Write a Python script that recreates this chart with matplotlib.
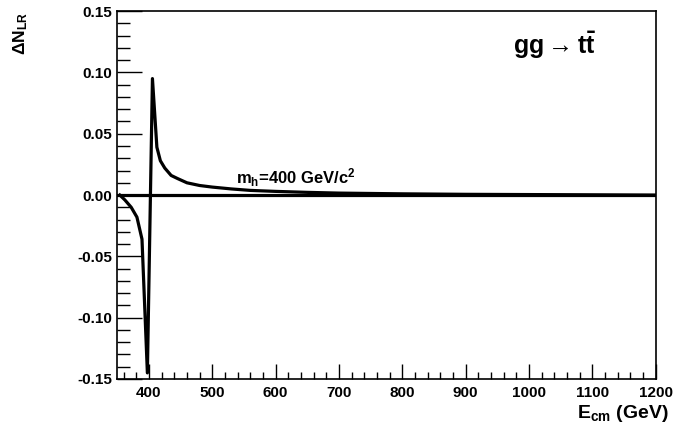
import matplotlib
matplotlib.use('Agg')
import matplotlib.pyplot as plt
from matplotlib.ticker import MultipleLocator, FormatStrFormatter

plt.rcParams['font.family'] = ['Liberation Sans', 'DejaVu Sans']
plt.rcParams['font.weight'] = 'bold'
plt.rcParams['mathtext.fontset'] = 'custom'
plt.rcParams['mathtext.rm'] = 'Liberation Sans'
plt.rcParams['mathtext.bf'] = 'Liberation Sans:bold'
plt.rcParams['mathtext.it'] = 'Liberation Sans:italic'

# curve
energy = [354, 362, 372, 381, 389, 397.5, 405.5, 412.5, 418, 425, 435, 445,
          460, 480, 500, 530, 560, 600, 650, 700, 800, 900, 1000, 1100, 1200]
delta_n = [0.0, -0.004, -0.010, -0.018, -0.036, -0.145, 0.095, 0.039, 0.028,
           0.022, 0.016, 0.0135, 0.010, 0.0078, 0.0065, 0.005, 0.0038, 0.003,
           0.0022, 0.0016, 0.001, 0.0006, 0.0004, 0.0002, 0.0]

x_range = (350, 1200)
y_range = (-0.15, 0.15)

fig = plt.figure(figsize=(6.76, 4.28), dpi=100)
ax = fig.add_axes([0.1735, 0.1145, 0.7965, 0.8595])

ax.plot(energy, delta_n, color='black', lw=2.3)
ax.plot(x_range, [0, 0], color='black', lw=2.3)

ax.set_xlim(*x_range)
ax.set_ylim(*y_range)

ax.xaxis.set_major_locator(MultipleLocator(100))
ax.xaxis.set_minor_locator(MultipleLocator(20))
ax.yaxis.set_major_locator(MultipleLocator(0.05))
ax.yaxis.set_minor_locator(MultipleLocator(0.01))
ax.yaxis.set_major_formatter(FormatStrFormatter('%.2f'))

ax.tick_params(which='both', direction='in', top=False, right=False, labelsize=11)
ax.tick_params(axis='y', which='major', length=18, width=1)
ax.tick_params(axis='y', which='minor', length=9, width=1)
ax.tick_params(axis='x', which='major', length=11, width=1)
ax.tick_params(axis='x', which='minor', length=5, width=1)
ax.tick_params(axis='x', pad=5)
for lab in ax.get_xticklabels() + ax.get_yticklabels():
    lab.set_fontweight('bold')
for s in ax.spines.values():
    s.set_linewidth(1.2)

ax.text(538, 0.0145, r'$\mathbf{m_h}$=400 GeV/c$^\mathbf{2}$', fontsize=12,
        fontweight='bold', ha='left', va='center')
ax.text(975, 0.122, r'$\mathbf{gg \rightarrow t\bar{t}}$', fontsize=18,
        ha='left', va='center')

fig.text(0.99, 0.024, r'$\mathbf{E_{cm}}$ (GeV)', fontsize=14, fontweight='bold',
         ha='right', va='baseline')
fig.text(0.03, 0.972, r'$\Delta\mathbf{N_{LR}}$', fontsize=12.5, rotation=90,
         ha='center', va='top')

fig.savefig('out.png', dpi=100)
